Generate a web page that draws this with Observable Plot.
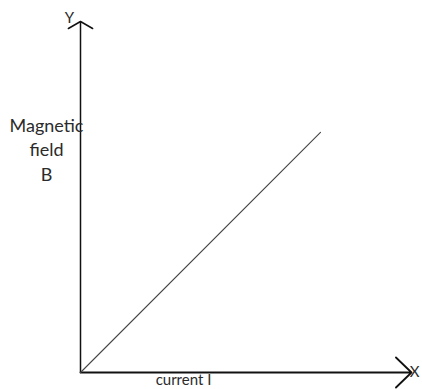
<!DOCTYPE html>
<html>
<head>
<meta charset="utf-8">
<script src="https://cdn.jsdelivr.net/npm/d3@7"></script>
<script src="https://cdn.jsdelivr.net/npm/@observablehq/plot@0.6"></script>
<style>
  html, body { margin: 0; padding: 0; background: #fff; }
  #chart svg { display: block; }
</style>
</head>
<body>
<div id="chart"></div>
<script>
// B grows linearly with I (arbitrary units)
const current = [0, 7.25];
const field = [0, 6.84];

// Axis extents (arrow tips)
const xAxisEnd = 10;
const yAxisEnd = 10;

const xLabel = "current I";
const yLabel = "Magnetic\nfield\nB";
const xLetter = "X";
const yLetter = "Y";

const points = current.map((c, i) => ({current: c, field: field[i]}));

const font = "Lato, 'Open Sans', sans-serif";

const chart = Plot.plot({
  width: 422,
  height: 389,
  marginLeft: 80,
  marginRight: 11,
  marginTop: 21,
  marginBottom: 17,
  x: {domain: [0, xAxisEnd], axis: null},
  y: {domain: [0, yAxisEnd], axis: null},
  style: {fontFamily: font, background: "#fff", overflow: "visible"},
  marks: [
    // y axis with open arrowhead
    Plot.arrow([{}], {
      x1: 0, y1: 0, x2: 0, y2: yAxisEnd,
      stroke: "#111", strokeWidth: 1.5,
      headLength: 14, headAngle: 120
    }),
    // x axis with open arrowhead
    Plot.arrow([{}], {
      x1: 0, y1: 0, x2: xAxisEnd, y2: 0,
      stroke: "#111", strokeWidth: 1.8,
      headLength: 18, headAngle: 88
    }),
    // B vs I
    Plot.line(points, {x: "current", y: "field", stroke: "#444", strokeWidth: 1.1}),
    // labels
    Plot.text([yLabel], {
      frameAnchor: "top-left", text: d => d,
      textAnchor: "middle", lineAnchor: "middle", lineHeight: 1.36,
      dx: -34, dy: 127, fontSize: 18, fill: "#2b2b2b"
    }),
    Plot.text([xLabel], {
      frameAnchor: "bottom-left", text: d => d,
      textAnchor: "middle", lineAnchor: "top",
      dx: 103, dy: 2.3, fontSize: 15, fill: "#2b2b2b"
    }),
    Plot.text([yLetter], {
      frameAnchor: "top-left", text: d => d,
      textAnchor: "middle", lineAnchor: "middle",
      dx: -11, dy: -3, fontSize: 15, fill: "#2b2b2b"
    }),
    Plot.text([xLetter], {
      frameAnchor: "bottom-right", text: d => d,
      textAnchor: "middle", lineAnchor: "middle",
      dx: 3, dy: 0, fontSize: 15, fill: "#2b2b2b"
    })
  ]
});

document.getElementById("chart").append(chart);
</script>
</body>
</html>
